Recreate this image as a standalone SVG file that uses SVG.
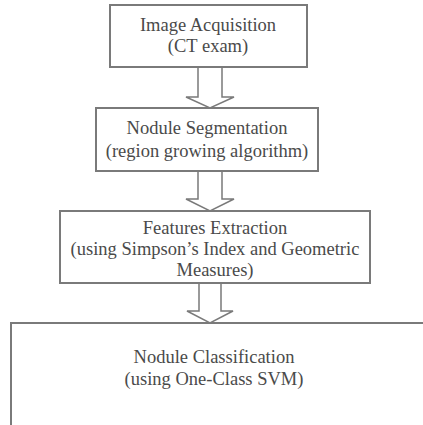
<svg xmlns="http://www.w3.org/2000/svg" width="423" height="425" viewBox="0 0 423 425">
<style>
.box{fill:#fff;stroke:#7a7a7a;stroke-width:2}
.arr{fill:#fff;stroke:#7a7a7a;stroke-width:1.5;stroke-linejoin:miter}
text{font-family:"Liberation Serif","Times New Roman",serif;font-size:18.5px;fill:#4a4a4a;text-anchor:middle}
</style>
<rect width="423" height="425" fill="#fff"/>
<g id="connectors">
<polygon class="arr" points="198,67 222,67 222,97 234,97 210,108 186,97 198,97"/>
<polygon class="arr" points="198,171 222,171 222,199 234,199 210,211 186,199 198,199"/>
<polygon class="arr" points="199,283 221,283 221,311 233,311 210,323 187,311 199,311"/>
</g>
<g id="n1">
<rect class="box" x="110" y="5" width="197" height="62"/>
<text x="208" y="31">Image Acquisition</text>
<text x="208" y="52">(CT exam)</text>
</g>
<g id="n2">
<rect class="box" x="96" y="108" width="222" height="63"/>
<text x="207" y="134">Nodule Segmentation</text>
<text x="207" y="157">(region growing algorithm)</text>
</g>
<g id="n3">
<rect class="box" x="60" y="211" width="310" height="72"/>
<text x="215" y="234">Features Extraction</text>
<text x="215" y="255">(using Simpson’s Index and Geometric</text>
<text x="215" y="276">Measures)</text>
</g>
<g id="n4">
<rect class="box" x="11" y="323" width="420" height="120"/>
<text x="214" y="363">Nodule Classification</text>
<text x="214" y="385">(using One-Class SVM)</text>
</g>
</svg>
